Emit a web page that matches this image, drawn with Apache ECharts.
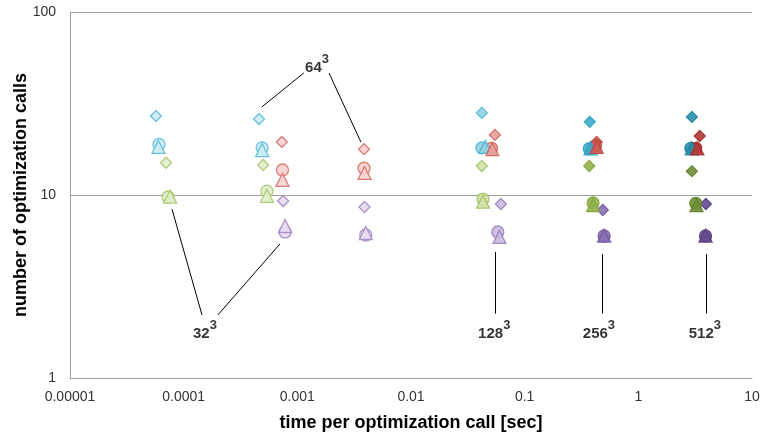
<!DOCTYPE html>
<html><head><meta charset="utf-8">
<script src="https://cdn.jsdelivr.net/npm/echarts@6/dist/echarts.min.js"></script>
<style>html,body{margin:0;padding:0;background:#fff}#c{width:767px;height:434px}</style>
</head><body><div id="c"></div>
<script>
// groups: 32^3, 64^3, 128^3, 256^3, 512^3
var groups = ['32', '64', '128', '256', '512'];
var xTickLabels = ['0.00001', '0.0001', '0.001', '0.01', '0.1', '1', '10'];
var yTickLabels = ['1', '10', '100'];

var cyanDiamond   = [[5.7e-5, 27.0], [4.6e-4, 26.0], [0.042, 28.1], [0.374, 25.1], [2.96, 26.7]];
var cyanCircle    = [[6.07e-5, 18.9], [4.9e-4, 18.1], [0.042, 18.1], [0.37, 17.9], [2.9, 18.0]];
var cyanTriangle  = [[6.0e-5, 18.3], [4.9e-4, 17.6], [0.045, 18.3], [0.38, 18.0], [2.95, 18.0]];
var greenDiamond  = [[7.0e-5, 15.0], [5.0e-4, 14.6], [0.042, 14.4], [0.37, 14.4], [2.96, 13.5]];
var greenCircle   = [[7.3e-5, 9.75], [5.4e-4, 10.5], [0.043, 9.5], [0.40, 9.04], [3.2, 9.0]];
var greenTriangle = [[7.6e-5, 9.8], [5.4e-4, 9.9], [0.043, 9.2], [0.40, 8.8], [3.25, 8.8]];
var redDiamond    = [[7.3e-4, 19.5], [3.86e-3, 17.8], [0.0547, 21.3], [0.43, 19.5], [3.47, 21.0]];
var redCircle     = [[7.4e-4, 13.7], [3.86e-3, 14.0], [0.051, 18.0], [0.42, 18.6], [3.2, 18.0]];
var redTriangle   = [[7.4e-4, 12.1], [3.9e-3, 13.2], [0.052, 17.8], [0.43, 18.3], [3.3, 18.0]];
var purpleDiamond = [[7.5e-4, 9.27], [3.9e-3, 8.6], [0.0618, 8.93], [0.487, 8.28], [3.93, 8.93]];
var purpleCircle  = [[7.8e-4, 6.28], [4.0e-3, 6.04], [0.058, 6.28], [0.5, 5.97], [3.9, 5.97]];
var purpleTriangle= [[7.8e-4, 6.77], [4.0e-3, 6.2], [0.06, 5.9], [0.5, 6.0], [3.9, 6.0]];

// annotation label anchors and connector lines (data coordinates)
var annotLabels = [[1.54e-4, 1.83, '32'], [1.49e-3, 52.0, '64'], [0.054, 1.83, '128'], [0.45, 1.83, '256'], [3.85, 1.83, '512']];
var annotLines = [
  [[7.89e-5, 8.38], [1.45e-4, 2.21]],
  [[2.0e-4, 2.21], [7.03e-4, 5.40]],
  [[4.88e-4, 30.3], [1.14e-3, 46.4]],
  [[1.90e-3, 46.4], [3.62e-3, 19.5]],
  [[0.0547, 4.88], [0.0547, 2.25]],
  [[0.477, 4.75], [0.477, 2.25]],
  [[3.93, 4.75], [3.93, 2.25]]
];

var shadeIdx = [0, 0, 1, 2, 3];
var palette = {
  cyan:   {stroke: ['#5cbcd8', '#4fb6d3', '#2fa3c4', '#24839f'], fill: ['#cdebf4', '#8fd2e6', '#3eabcb', '#2a8eab']},
  green:  {stroke: ['#a8c96d', '#a3c468', '#86a63f', '#627f2c'], fill: ['#e2edcc', '#cfe0a8', '#93b24c', '#6f8e37']},
  red:    {stroke: ['#d9706a', '#d4665f', '#c04a45', '#a3302c'], fill: ['#f6d3d1', '#e8a19c', '#cc5c56', '#b23a35']},
  purple: {stroke: ['#a28ac6', '#9a82be', '#76599f', '#573f80'], fill: ['#e6ddf1', '#c9b9df', '#8a6fb5', '#664d90']}
};

function mk(name, arr, color, symbol, size) {
  return {
    name: name, type: 'scatter', symbol: symbol, symbolSize: size,
    data: arr.map(function (p, i) {
      var s = shadeIdx[i];
      return {value: p, itemStyle: {color: palette[color].fill[s], borderColor: palette[color].stroke[s], borderWidth: 1.3, opacity: 0.9}};
    }),
    z: symbol === 'triangle' ? 4 : (symbol === 'circle' ? 3 : 2)
  };
}

var series = [
  mk('cd', cyanDiamond, 'cyan', 'diamond', 11),
  mk('gd', greenDiamond, 'green', 'diamond', 11),
  mk('rd', redDiamond, 'red', 'diamond', 11),
  mk('pd', purpleDiamond, 'purple', 'diamond', 11),
  mk('cc', cyanCircle, 'cyan', 'circle', 12),
  mk('gc', greenCircle, 'green', 'circle', 12),
  mk('rc', redCircle, 'red', 'circle', 12),
  mk('pc', purpleCircle, 'purple', 'circle', 12),
  mk('ct', cyanTriangle, 'cyan', 'triangle', 13),
  mk('gt', greenTriangle, 'green', 'triangle', 13),
  mk('rt', redTriangle, 'red', 'triangle', 13),
  mk('pt', purpleTriangle, 'purple', 'triangle', 13),
  {
    name: 'annot', type: 'scatter', symbolSize: 1, silent: true,
    itemStyle: {color: 'rgba(0,0,0,0)'},
    data: annotLabels.map(function (a) { return {value: [a[0], a[1]], name: a[2]}; }),
    label: {
      show: true, position: 'inside',
      formatter: function (p) { return '{b|' + p.name + '}{s|3}'; },
      rich: {
        b: {fontSize: 15, fontWeight: 'bold', color: '#000', fontFamily: 'Liberation Sans', lineHeight: 23, verticalAlign: 'bottom'},
        s: {fontSize: 13, fontWeight: 'bold', color: '#000', fontFamily: 'Liberation Sans', lineHeight: 14, verticalAlign: 'top'}
      }
    },
    markLine: {
      silent: true, symbol: 'none', animation: false,
      label: {show: false},
      lineStyle: {color: '#000', width: 1, type: 'solid'},
      data: annotLines.map(function (l) { return [{coord: l[0]}, {coord: l[1]}]; })
    }
  }
];

var chart = echarts.init(document.getElementById('c'), null, {renderer: 'canvas'});
chart.setOption({
  animation: false,
  grid: {left: 70, right: 15, top: 12, bottom: 56, containLabel: false, outerBoundsMode: 'none'},
  xAxis: {
    type: 'log', logBase: 10, min: 0.00001, max: 10,
    name: 'time per optimization call [sec]', nameLocation: 'middle', nameGap: 36,
    nameMoveOverlap: false,
    nameTextStyle: {fontSize: 18, fontWeight: 'bold', color: '#000', fontFamily: 'Liberation Sans'},
    axisLine: {show: true, lineStyle: {color: '#a0a0a0'}},
    axisTick: {show: false},
    splitLine: {show: false},
    axisLabel: {
      color: '#333', fontSize: 14, fontFamily: 'Liberation Sans', margin: 12,
      formatter: function (v) { var k = Math.round(Math.log10(v)) + 5; return xTickLabels[k] || ''; }
    }
  },
  yAxis: {
    type: 'log', logBase: 10, min: 1, max: 100,
    name: 'number of optimization calls', nameLocation: 'middle', nameGap: 40,
    nameMoveOverlap: false,
    nameTextStyle: {fontSize: 18, fontWeight: 'bold', color: '#000', fontFamily: 'Liberation Sans'},
    axisLine: {show: true, lineStyle: {color: '#a0a0a0'}},
    axisTick: {show: false},
    splitLine: {show: true, lineStyle: {color: '#a0a0a0', width: 1}},
    axisLabel: {
      color: '#333', fontSize: 14, fontFamily: 'Liberation Sans', margin: 14,
      formatter: function (v) { var k = Math.round(Math.log10(v)); return yTickLabels[k] || ''; }
    }
  },
  series: series
});
</script>
</body></html>
